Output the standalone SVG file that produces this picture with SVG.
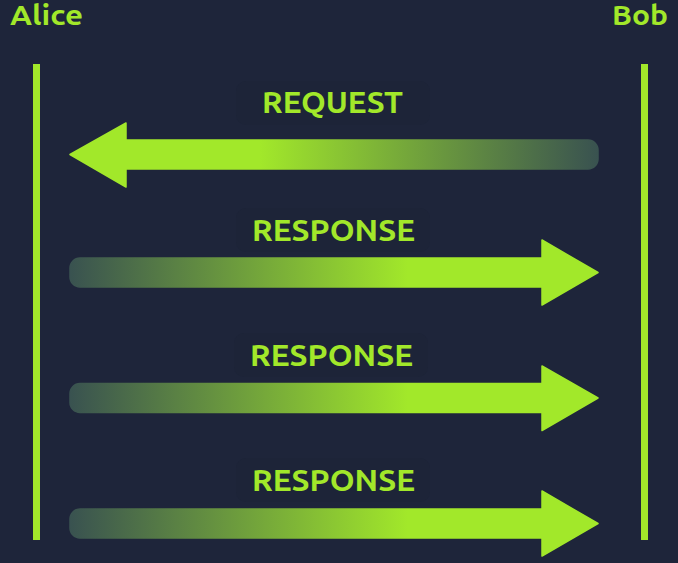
<svg xmlns="http://www.w3.org/2000/svg" width="678" height="563" viewBox="0 0 678 563">
<defs>
<style>
.lbl{font-family:"Ubuntu","Open Sans","Liberation Sans",sans-serif;font-weight:700;fill:#a2e82a;}
.actor{font-size:28px;}
.msg{font-size:30px;}
.life{fill:#a2e82a;}
.halo{fill:#1d2438;}
</style>
<linearGradient id="gReq" gradientUnits="userSpaceOnUse" x1="598" y1="0" x2="70" y2="0">
<stop offset="0" stop-color="#395250"/>
<stop offset="0.64" stop-color="#a2e82a"/>
<stop offset="1" stop-color="#a2e82a"/>
</linearGradient>
<linearGradient id="gRes" gradientUnits="userSpaceOnUse" x1="70" y1="0" x2="598" y2="0">
<stop offset="0" stop-color="#395250"/>
<stop offset="0.64" stop-color="#a2e82a"/>
<stop offset="1" stop-color="#a2e82a"/>
</linearGradient>
</defs>
<rect width="678" height="563" fill="#1e253a"/>
<g id="alice">
<text class="lbl actor" x="10" y="25" textLength="73" lengthAdjust="spacingAndGlyphs">Alice</text>
<rect class="life" x="33" y="64" width="7" height="476"/>
</g>
<g id="bob">
<text class="lbl actor" x="612" y="25" textLength="56" lengthAdjust="spacingAndGlyphs">Bob</text>
<rect class="life" x="641" y="64" width="7" height="476"/>
</g>
<g id="connectors">
<g id="request">
<rect class="halo" x="236" y="81" width="194" height="44" rx="10"/>
<path d="M588,140 H126 V123 L70,154.5 L126,187 V169 H588 A10,10 0 0 0 598,159 V150 A10,10 0 0 0 588,140 Z" fill="url(#gReq)" stroke="url(#gReq)" stroke-width="1.5" stroke-linejoin="round"/>
<text class="lbl msg" x="262" y="113" textLength="141" lengthAdjust="spacingAndGlyphs">REQUEST</text>
</g>
<g id="response1">
<rect class="halo" x="236" y="208" width="194" height="44" rx="10"/>
<path d="M80,258 H542 V240 L598,272.5 L542,305 V287 H80 A10,10 0 0 1 70,277 V268 A10,10 0 0 1 80,258 Z" fill="url(#gRes)" stroke="url(#gRes)" stroke-width="1.5" stroke-linejoin="round"/>
<text class="lbl msg" x="252" y="241" textLength="163" lengthAdjust="spacingAndGlyphs">RESPONSE</text>
</g>
<g id="response2">
<rect class="halo" x="234" y="333" width="194" height="44" rx="10"/>
<path d="M80,383.5 H542 V366 L598,398 L542,430.5 V412.5 H80 A10,10 0 0 1 70,402.5 V393.5 A10,10 0 0 1 80,383.5 Z" fill="url(#gRes)" stroke="url(#gRes)" stroke-width="1.5" stroke-linejoin="round"/>
<text class="lbl msg" x="250" y="366" textLength="163" lengthAdjust="spacingAndGlyphs">RESPONSE</text>
</g>
<g id="response3">
<rect class="halo" x="236" y="458" width="194" height="44" rx="10"/>
<path d="M80,509 H542 V491 L598,523.5 L542,556 V538 H80 A10,10 0 0 1 70,528 V519 A10,10 0 0 1 80,509 Z" fill="url(#gRes)" stroke="url(#gRes)" stroke-width="1.5" stroke-linejoin="round"/>
<text class="lbl msg" x="252" y="491" textLength="163" lengthAdjust="spacingAndGlyphs">RESPONSE</text>
</g>
</g>
</svg>
